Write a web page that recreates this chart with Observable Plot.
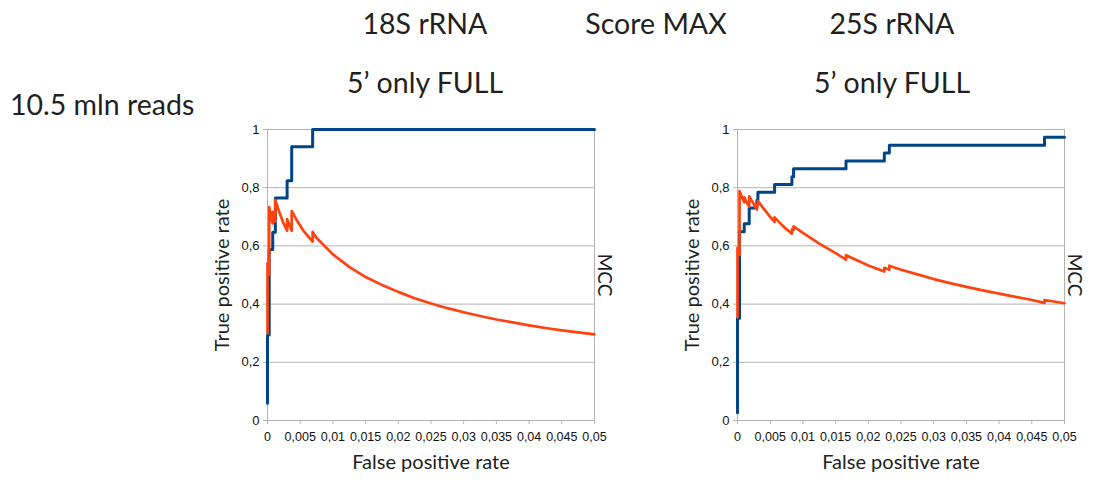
<!DOCTYPE html>
<html>
<head>
<meta charset="utf-8">
<script src="https://cdn.jsdelivr.net/npm/d3@7"></script>
<script src="https://cdn.jsdelivr.net/npm/@observablehq/plot@0.6"></script>
<style>
  html, body { margin: 0; padding: 0; background: #fff; overflow: hidden; }
  #page { position: relative; width: 1094px; height: 488px; }
  #page > svg { position: absolute; }
</style>
</head>
<body>
<div id="page"></div>
<script>
// ---- data ----
const xTicks = [0, 0.005, 0.01, 0.015, 0.02, 0.025, 0.03, 0.035, 0.04, 0.045, 0.05];
const yTicks = [0, 0.2, 0.4, 0.6, 0.8, 1];

// 18S rRNA: true positive rate (step) vs false positive rate
const tpr18Fpr = [0, 0, 0.00026, 0.0008, 0.0012, 0.003, 0.0037, 0.0069, 0.05];
const tpr18    = [0.059, 0.294, 0.588, 0.647, 0.765, 0.824, 0.941, 1, 1];
// 18S rRNA: MCC
const mcc18Fpr = [0, 0, 0.00026, 0.00026, 0.0005, 0.0008, 0.0008, 0.0012, 0.0012, 0.0018,
                  0.0024, 0.003, 0.003, 0.0037, 0.0037, 0.0045, 0.0055, 0.0069, 0.0069, 0.0075,
                  0.01, 0.0125, 0.015, 0.0175, 0.02, 0.0225, 0.025, 0.0275, 0.03, 0.0325,
                  0.035, 0.0375, 0.04, 0.0425, 0.045, 0.0475, 0.05];
const mcc18    = [0.30, 0.54, 0.50, 0.733, 0.70, 0.677, 0.717, 0.683, 0.757, 0.717,
                  0.68, 0.652, 0.692, 0.652, 0.72, 0.687, 0.652, 0.615, 0.648, 0.627,
                  0.571, 0.528, 0.493, 0.466, 0.442, 0.42, 0.402, 0.386, 0.372, 0.359,
                  0.347, 0.337, 0.327, 0.318, 0.310, 0.303, 0.296];

// 25S rRNA: true positive rate (step)
const tpr25Fpr = [0, 0, 0.00031, 0.00103, 0.00179, 0.00297, 0.00312, 0.00567, 0.00832, 0.00857,
                  0.01659, 0.02245, 0.02322, 0.04694, 0.05];
const tpr25    = [0.027, 0.351, 0.649, 0.676, 0.730, 0.757, 0.784, 0.811, 0.838, 0.865,
                  0.892, 0.919, 0.946, 0.973, 0.973];
// 25S rRNA: MCC
const mcc25Fpr = [0, 0, 0.00031, 0.00031, 0.0006, 0.00103, 0.00103, 0.0014, 0.00179, 0.00179,
                  0.0024, 0.00297, 0.00297, 0.00312, 0.00312, 0.004, 0.005, 0.00567, 0.00567, 0.007,
                  0.00832, 0.00832, 0.00857, 0.00857, 0.01, 0.0125, 0.015, 0.01659, 0.01659, 0.02,
                  0.02245, 0.02245, 0.02322, 0.02322, 0.025, 0.0275, 0.03, 0.0325, 0.035, 0.0375,
                  0.04, 0.0425, 0.045, 0.04694, 0.04694, 0.05];
const mcc25    = [0.355, 0.593, 0.569, 0.788, 0.772, 0.750, 0.767, 0.750, 0.735, 0.770,
                  0.747, 0.725, 0.742, 0.740, 0.754, 0.728, 0.700, 0.683, 0.698, 0.667,
                  0.642, 0.657, 0.655, 0.667, 0.645, 0.608, 0.575, 0.553, 0.568, 0.533,
                  0.512, 0.525, 0.518, 0.532, 0.518, 0.502, 0.486, 0.472, 0.459, 0.447,
                  0.436, 0.425, 0.414, 0.404, 0.414, 0.403];

const titles = ["18S rRNA", "Score MAX", "25S rRNA"];
const subtitles = ["5\u2019 only FULL", "5\u2019 only FULL"];
const rowLabel = "10.5 mln reads";
const xLabel = "False positive rate";
const yLabel = "True positive rate";
const y2Label = "MCC";

// ---- styles ----
const BLUE = "#004586", RED = "#ff420e", GRID = "#b3b3b3";
const labelFont = "Lato, 'Open Sans', sans-serif";
const fmt = d => String(d).replace(".", ",");
const toRows = (xs, ys) => xs.map((x, i) => ({x, y: ys[i]}));

function chart(tprX, tprY, mccX, mccY, w, mr) {
  return Plot.plot({
    width: w, height: 370,
    marginLeft: 67, marginRight: mr, marginTop: 19, marginBottom: 60,
    x: {domain: [0, 0.05]},
    y: {domain: [0, 1]},
    style: {fontFamily: "'Liberation Sans', Arial, sans-serif", fontSize: "12.5px", color: "#111", background: "transparent", overflow: "visible"},
    marks: [
      Plot.gridY(yTicks, {stroke: GRID, strokeOpacity: 1, strokeWidth: 1}),
      Plot.ruleX([0, 0.05], {stroke: GRID, strokeWidth: 1}),
      Plot.axisX(xTicks, {tickSize: 4, tickPadding: 8, tickFormat: fmt, label: null, stroke: GRID, fill: "#111"}),
      Plot.axisY(yTicks, {tickSize: 4, tickPadding: 4, tickFormat: fmt, label: null, stroke: GRID, fill: "#111", fontSize: 13}),
      Plot.line(toRows(tprX, tprY), {x: "x", y: "y", curve: "step-after", stroke: BLUE, strokeWidth: 3}),
      Plot.line(toRows(mccX, mccY), {x: "x", y: "y", stroke: RED, strokeWidth: 2.7}),
      Plot.text([xLabel], {frameAnchor: "bottom", dy: 48, textAnchor: "middle", text: d => d, fontFamily: labelFont, fontSize: 20, fill: "#231f20"}),
      Plot.text([yLabel], {frameAnchor: "left", dx: -45, rotate: -90, textAnchor: "middle", text: d => d, fontFamily: labelFont, fontSize: 20, fill: "#231f20"}),
      Plot.text([y2Label], {frameAnchor: "right", dx: 10, rotate: 90, textAnchor: "middle", text: d => d, fontFamily: labelFont, fontSize: 19, fill: "#231f20"})
    ]
  });
}

const page = document.getElementById("page");

// ---- titles overlay ----
const svg = d3.select(page).append("svg")
  .attr("width", 1094).attr("height", 488)
  .style("left", "0px").style("top", "0px")
  .style("font-family", labelFont).style("font-size", "28.5px").style("fill", "#231f20");
const titleX = [425, 656, 892];
titles.forEach((t, i) => svg.append("text").attr("x", titleX[i]).attr("y", 34).attr("text-anchor", "middle").text(t));
const subX = [425, 892];
subtitles.forEach((t, i) => svg.append("text").attr("x", subX[i]).attr("y", 93).attr("text-anchor", "middle").text(t));
svg.append("text").attr("x", 10).attr("y", 115).attr("text-anchor", "start").text(rowLabel);

const left = chart(tpr18Fpr, tpr18, mcc18Fpr, mcc18, 430, 36);
left.style.left = "200px"; left.style.top = "110px";
page.appendChild(left);
const right = chart(tpr25Fpr, tpr25, mcc25Fpr, mcc25, 424, 30);
right.style.left = "670px"; right.style.top = "110px";
page.appendChild(right);
</script>
</body>
</html>
